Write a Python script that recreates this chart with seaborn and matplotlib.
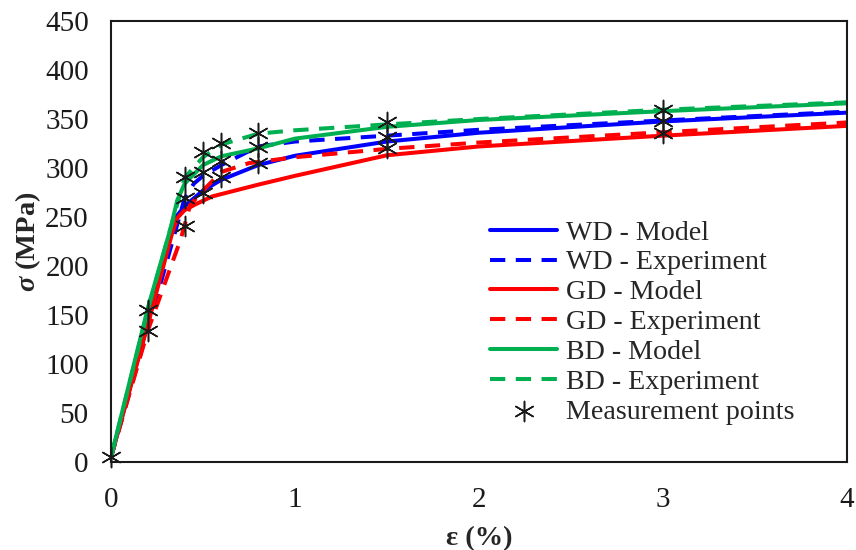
import matplotlib
matplotlib.use('Agg')
import matplotlib.pyplot as plt
import seaborn as sns
import pandas as pd

# strain (%) and stress (MPa)
wd_model_x = [0, 0.2, 0.33, 0.353, 0.4, 0.5, 0.6, 0.8, 1.0, 1.5, 2, 3, 4]
wd_model_y = [5, 142, 236, 250, 261, 277, 288, 303, 312.5, 327, 336, 347.5, 356.5]
wd_exp_x = [0, 0.2, 0.4, 0.45, 0.5, 0.6, 0.8, 1.0, 1.5, 2, 3, 4]
wd_exp_y = [5, 136, 269, 284, 292, 303, 322, 327, 333, 339, 348.5, 357.5]

gd_model_x = [0, 0.2, 0.33, 0.36, 0.4, 0.46, 0.55, 0.8, 1.0, 1.5, 2, 3, 4]
gd_model_y = [5, 140, 232, 249, 257, 263, 271, 283, 292, 313, 322, 333, 343]
gd_exp_x = [0, 0.2, 0.38, 0.43, 0.5, 0.6, 0.75, 1.0, 1.5, 2, 3, 4]
gd_exp_y = [5, 134, 228, 262, 277, 296, 305, 311, 319.5, 326, 336.5, 346.5]

bd_model_x = [0, 0.2, 0.326, 0.36, 0.4, 0.5, 0.6, 0.8, 1.0, 1.5, 2, 3, 4]
bd_model_y = [5, 157, 240, 267, 284, 303, 312, 320, 330, 342, 349, 358, 366]
bd_exp_x = [0, 0.2, 0.4, 0.5, 0.6, 0.8, 1.0, 1.5, 2, 3, 4]
bd_exp_y = [5, 155, 290, 311, 324, 335, 338.5, 344.5, 350, 359.5, 367]

meas_x = [0, 0.2, 0.2, 0.4, 0.4, 0.4, 0.5, 0.5, 0.5, 0.6, 0.6, 0.6,
          0.8, 0.8, 0.8, 1.5, 1.5, 1.5, 3, 3, 3]
meas_y = [5, 155, 134, 291, 269, 241, 316, 296, 275, 326, 307, 291,
          336, 321, 305, 347, 332, 320, 359, 348, 336]

sns.set_theme(style='white')
plt.rcParams['font.family'] = ['Liberation Serif', 'DejaVu Serif']
plt.rcParams['mathtext.fontset'] = 'custom'
plt.rcParams['mathtext.it'] = 'Liberation Serif:bold:italic'
plt.rcParams['mathtext.rm'] = 'Liberation Serif:bold'
plt.rcParams['mathtext.bf'] = 'Liberation Serif:bold'

fig = plt.figure(figsize=(8.56, 5.5), dpi=100)
ax = fig.add_axes([111/856, 88/550, 736/856, 441/550])

lw = 2.9
dash = (0, (3.8, 2.6))
series = [
    (wd_model_x, wd_model_y, '#0000FF', '-', 'WD - Model'),
    (wd_exp_x, wd_exp_y, '#0000FF', dash, 'WD - Experiment'),
    (gd_model_x, gd_model_y, '#FF0000', '-', 'GD - Model'),
    (gd_exp_x, gd_exp_y, '#FF0000', dash, 'GD - Experiment'),
    (bd_model_x, bd_model_y, '#00B050', '-', 'BD - Model'),
    (bd_exp_x, bd_exp_y, '#00B050', dash, 'BD - Experiment'),
]
for xs, ys, col, ls, lab in series:
    df = pd.DataFrame({'x': xs, 'y': ys})
    sns.lineplot(data=df, x='x', y='y', ax=ax, color=col, linewidth=lw,
                 linestyle=ls, label=lab, sort=False, estimator=None)

pts = pd.DataFrame({'x': meas_x, 'y': meas_y})
sns.scatterplot(data=pts, x='x', y='y', ax=ax, marker=(6, 2, 0), s=210,
                color='k', linewidth=1.1, label='Measurement points',
                zorder=5, clip_on=False)

ax.set_xlim(0, 4)
ax.set_ylim(0, 450)
ax.set_xticks([0, 1, 2, 3, 4])
ax.set_yticks(range(0, 451, 50))
ax.tick_params(direction='in', length=6, width=1.2, labelsize=21,
               colors='k')
ax.tick_params(axis='x', pad=18)
ax.tick_params(axis='y', pad=16)
for s in ax.spines.values():
    s.set_color('k')
    s.set_linewidth(1.5)

ax.set_xlabel('ε (%)', fontsize=20.5, fontweight='bold')
ax.set_ylabel(r'$\mathit{\sigma}$ (MPa)', fontsize=20.5, fontweight='bold')
ax.xaxis.set_label_coords(0.5, -0.145)
ax.yaxis.set_label_coords(-0.092, 0.5)

ax.legend(loc='upper left', bbox_to_anchor=(0.515, 0.549), frameon=False,
          fontsize=20.2, handlelength=2.4, handletextpad=0.3,
          labelspacing=0.15, borderpad=0, borderaxespad=0)

fig.savefig('out.png', dpi=100)
